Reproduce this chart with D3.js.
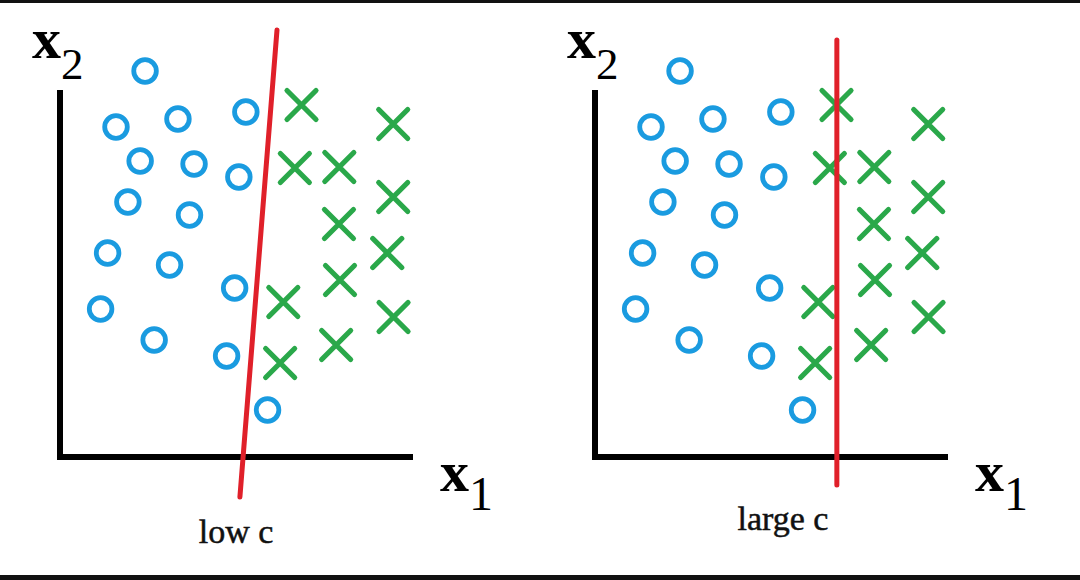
<!DOCTYPE html>
<html><head><meta charset="utf-8">
<script src="https://cdn.jsdelivr.net/npm/d3@7"></script>
<style>html,body{margin:0;padding:0;background:#fff;}svg{display:block;}
text{font-family:"Liberation Serif","Times New Roman",Times,serif;}</style>
</head><body>
<svg id="c" width="1080" height="580"></svg>
<script>
// Data (x1, x2) in abstract units 0..100
const circlesX1 = [24.3,16,33.7,53.1,22.9,38.3,51.1,19.4,37.0,13.6,31.3,49.9,11.6,26.9,47.6,59.3];
const circlesX2 = [96.5,82.5,84.5,86.25,74.0,73.25,70,63.75,60.5,51,48.0,42.25,37.0,29.25,25.25,11.75];
const crossesX1 = [69.0,95.2,67.1,79.8,79.7,95.2,93.5,80,63.8,95.3,62.9,78.9];
const crossesX2 = [88.0,83.25,72.25,72.5,58.25,65.0,51.0,44.25,38.75,35,23.5,28.0];
const panels = ["low c","large c"];
const boundaryX1 = [[62,51.4],[69.1,69.1]];
const boundaryX2 = [[106.75,-10],[104.25,-7]];
const axisLabels = ["x","2","x","1"];

const svg = d3.select("#c");
svg.append("rect").attr("x",0).attr("y",0).attr("width",1080).attr("height",3).attr("fill","#111");
svg.append("rect").attr("x",0).attr("y",575).attr("width",1080).attr("height",5).attr("fill","#111");

const origins = [60,595];
panels.forEach((label,i)=>{
  const ox = origins[i];
  const xs = d3.scaleLinear().domain([0,100]).range([ox, ox+350]);
  const ys = d3.scaleLinear().domain([0,100]).range([457, 57]);
  const g = svg.append("g");
  // axes
  g.append("path")
    .attr("d", `M${xs(0)},${ys(91)}L${xs(0)},${ys(0)}L${xs(100)},${ys(0)}`)
    .attr("fill","none").attr("stroke","#000").attr("stroke-width",6).attr("stroke-linecap","square");
  // circles
  g.selectAll("circle.o").data(d3.range(circlesX1.length)).join("circle")
    .attr("cx",k=>xs(circlesX1[k])).attr("cy",k=>ys(circlesX2[k])).attr("r",11.3)
    .attr("fill","none").attr("stroke","#1a9be0").attr("stroke-width",4.8);
  // crosses
  const s = 14.5;
  g.selectAll("path.x").data(d3.range(crossesX1.length)).join("path")
    .attr("d",k=>{const cx=xs(crossesX1[k]), cy=ys(crossesX2[k]);
      return `M${cx-s},${cy-s}L${cx+s},${cy+s}M${cx+s},${cy-s}L${cx-s},${cy+s}`;})
    .attr("fill","none").attr("stroke","#2aa84a").attr("stroke-width",5.2).attr("stroke-linecap","round");
  // boundary
  g.append("line")
    .attr("x1",xs(boundaryX1[i][0])).attr("y1",ys(boundaryX2[i][0]))
    .attr("x2",xs(boundaryX1[i][1])).attr("y2",ys(boundaryX2[i][1]))
    .attr("stroke","#e0202a").attr("stroke-width",5).attr("stroke-linecap","round");
  // axis labels
  const t2 = g.append("text").attr("x",ox-28).attr("y",58).attr("fill","#000");
  t2.append("tspan").attr("font-size",58).attr("font-weight","bold").text(axisLabels[0]);
  t2.append("tspan").attr("font-size",45).attr("dy",21).text(axisLabels[1]);
  const t1 = g.append("text").attr("x",ox+380).attr("y",491).attr("fill","#000");
  t1.append("tspan").attr("font-size",58).attr("font-weight","bold").text(axisLabels[2]);
  t1.append("tspan").attr("font-size",48).attr("dy",19).text(axisLabels[3]);
  // panel label
  g.append("text").attr("x", i===0 ? 236 : 783).attr("y", i===0 ? 543 : 530)
    .attr("text-anchor","middle").attr("font-size",34)
    .attr("fill","#111").attr("stroke","#111").attr("stroke-width",0.5).text(label);
});
</script>
</body></html>
